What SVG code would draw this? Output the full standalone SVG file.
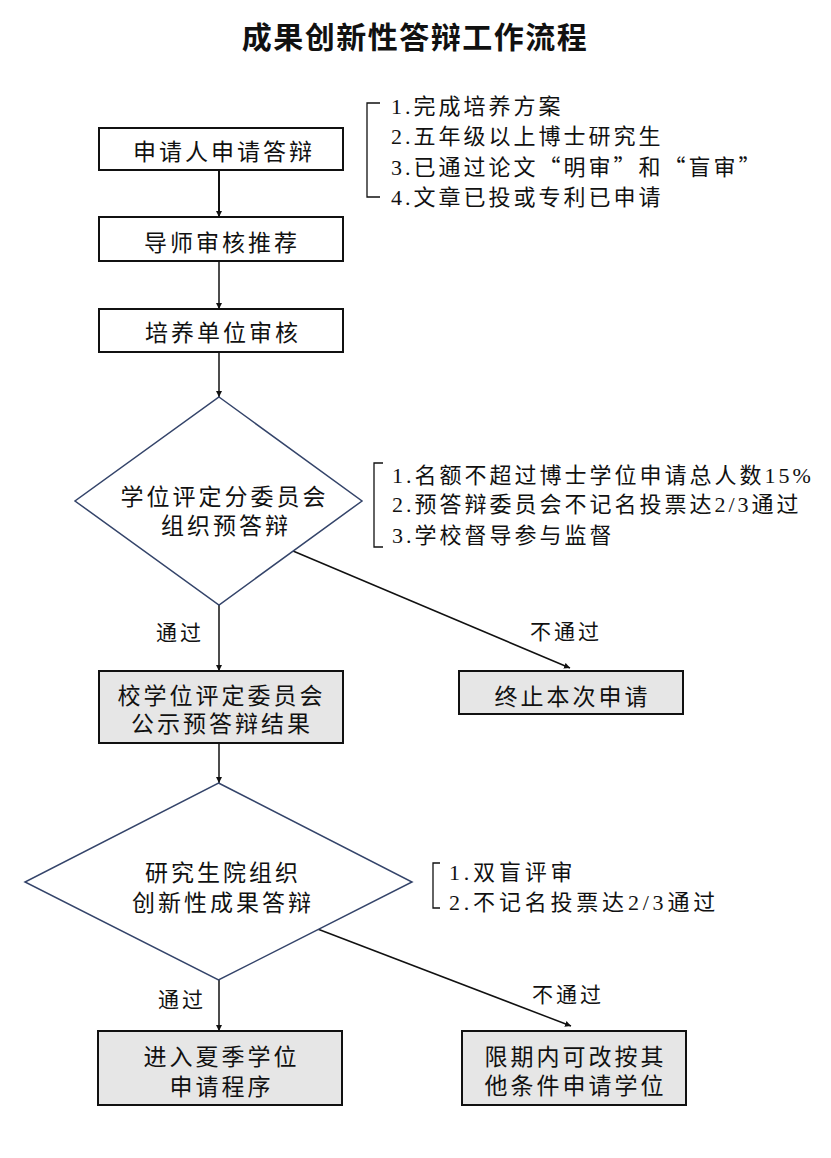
<svg xmlns="http://www.w3.org/2000/svg" width="831" height="1158" viewBox="0 0 831 1158">
<defs>
<style>
text{font-family:"Liberation Serif","Noto Sans CJK SC",serif;fill:#111;}
.t{font-size:23px;letter-spacing:3px;text-anchor:middle;}
.n{font-size:22px;letter-spacing:3px;}
.q{font-family:"Noto Sans CJK SC",sans-serif;}
.l{font-size:21px;letter-spacing:3px;text-anchor:middle;}
.title{font-family:"Noto Sans CJK SC",sans-serif;font-size:30px;font-weight:bold;letter-spacing:1.5px;text-anchor:middle;}
.box{fill:#fff;stroke:#111;stroke-width:2;}
.gbox{fill:#e6e6e6;stroke:#111;stroke-width:2;}
.dia{fill:#fff;stroke:#34446a;stroke-width:1.5;}
.c{fill:none;stroke:#111;stroke-width:1.5;}
.br{fill:none;stroke:#111;stroke-width:1.3;}
</style>
<marker id="ah" viewBox="0 0 10 10" refX="10" refY="5" markerWidth="6" markerHeight="6" markerUnits="userSpaceOnUse" orient="auto">
<path d="M0,0 L10,5 L0,10 z" fill="#111"/>
</marker>
</defs>
<rect width="831" height="1158" fill="#fff"/>
<text class="title" x="415" y="48">成果创新性答辩工作流程</text>

<g id="connectors">
<line class="c" x1="219" y1="170" x2="219" y2="217" marker-end="url(#ah)" style="stroke-width:2"/>
<line class="c" x1="219" y1="261" x2="219" y2="309" marker-end="url(#ah)"/>
<line class="c" x1="219" y1="352" x2="219" y2="397" marker-end="url(#ah)"/>
<line class="c" x1="219" y1="605" x2="219" y2="671" marker-end="url(#ah)"/>
<line class="c" x1="293" y1="551" x2="570" y2="668" marker-end="url(#ah)"/>
<line class="c" x1="219" y1="743" x2="219" y2="783" marker-end="url(#ah)"/>
<line class="c" x1="219" y1="980" x2="219" y2="1031" marker-end="url(#ah)"/>
<line class="c" x1="315" y1="928" x2="571" y2="1026" marker-end="url(#ah)"/>
<text class="l" x="180" y="640">通过</text>
<text class="l" x="566" y="639">不通过</text>
<text class="l" x="182" y="1007">通过</text>
<text class="l" x="568" y="1002">不通过</text>
</g>

<g id="n1">
<rect class="box" x="99" y="128" width="244" height="42"/>
<text class="t" x="224" y="159.5">申请人申请答辩</text>
</g>
<g id="note1">
<path class="br" d="M380,103 H367 V197 H380"/>
<text class="n" x="391" y="113.5">1.完成培养方案</text>
<text class="n" x="391" y="144">2.五年级以上博士研究生</text>
<text class="n" x="391" y="174.5">3.已通过论文<tspan class="q">“</tspan>明审<tspan class="q">”</tspan>和<tspan class="q">“</tspan>盲审<tspan class="q">”</tspan></text>
<text class="n" x="391" y="205">4.文章已投或专利已申请</text>
</g>
<g id="n2">
<rect class="box" x="99" y="217" width="244" height="44"/>
<text class="t" x="222" y="251">导师审核推荐</text>
</g>
<g id="n3">
<rect class="box" x="99" y="309" width="244" height="43"/>
<text class="t" x="223" y="341">培养单位审核</text>
</g>
<g id="d1">
<polygon class="dia" points="219,397 362,501 219,605 75,501"/>
<text class="t" x="224.5" y="505">学位评定分委员会</text>
<text class="t" x="226" y="533.5">组织预答辩</text>
</g>
<g id="note2">
<path class="br" d="M383,463 H374 V547 H383"/>
<text class="n" x="392" y="482.5">1.名额不超过博士学位申请总人数15%</text>
<text class="n" x="392" y="512">2.预答辩委员会不记名投票达2/3通过</text>
<text class="n" x="392" y="543">3.学校督导参与监督</text>
</g>
<g id="n4">
<rect class="gbox" x="99" y="671" width="244" height="72"/>
<text class="t" x="221.5" y="703.5">校学位评定委员会</text>
<text class="t" x="222" y="731.5">公示预答辩结果</text>
</g>
<g id="n5">
<rect class="gbox" x="459" y="671" width="224" height="43"/>
<text class="t" x="572.5" y="705">终止本次申请</text>
</g>
<g id="d2">
<polygon class="dia" points="218.5,783 412,882 218.5,980 25,882"/>
<text class="t" x="223" y="881">研究生院组织</text>
<text class="t" x="223" y="911">创新性成果答辩</text>
</g>
<g id="note3">
<path class="br" d="M440,863 H433 V908 H440"/>
<text class="n" x="449" y="879.5" style="letter-spacing:3.8px">1.双盲评审</text>
<text class="n" x="449" y="909.5" style="letter-spacing:3.8px">2.不记名投票达2/3通过</text>
</g>
<g id="n6">
<rect class="gbox" x="98" y="1031" width="244" height="74"/>
<text class="t" x="221.5" y="1065">进入夏季学位</text>
<text class="t" x="221.5" y="1094.5">申请程序</text>
</g>
<g id="n7">
<rect class="gbox" x="462" y="1031" width="224" height="74"/>
<text class="t" x="575.5" y="1064.5">限期内可改按其</text>
<text class="t" x="575.5" y="1093.5">他条件申请学位</text>
</g>
</svg>
